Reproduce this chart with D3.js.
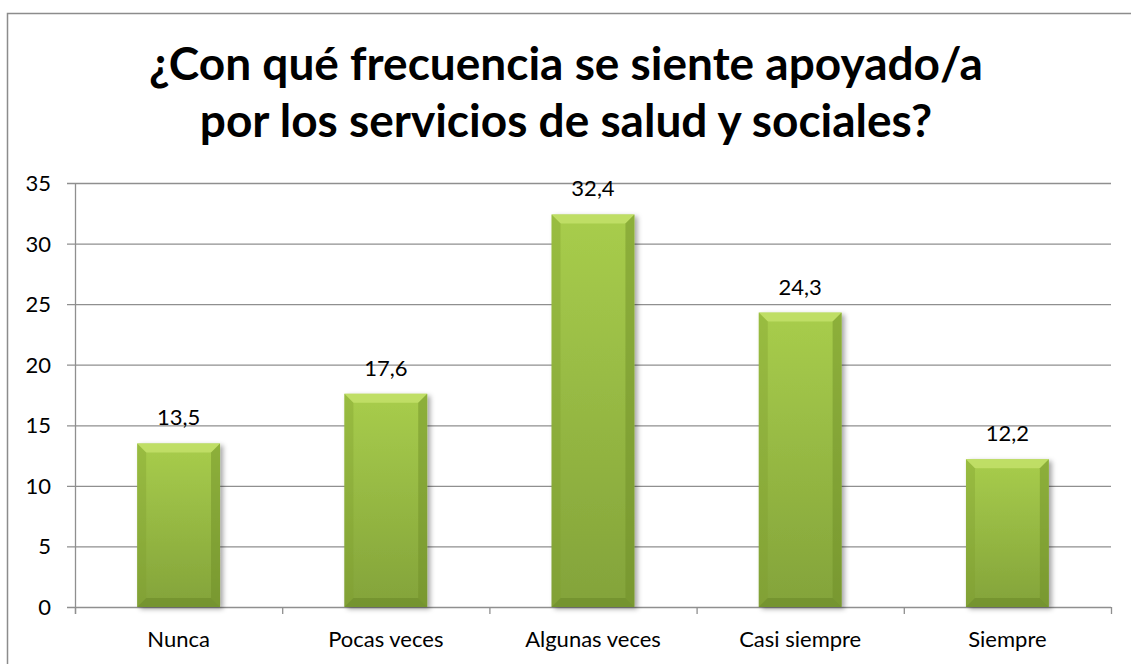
<!DOCTYPE html>
<html lang="es">
<head>
<meta charset="UTF-8">
<title>Apoyo de servicios</title>
<style>
  body { margin: 0; background: #fff; }
  svg text { font-family: Lato, "Open Sans", sans-serif; }
</style>
</head>
<body>
<svg id="chart" width="1131" height="664"></svg>
<script src="https://d3js.org/d3.v7.min.js"></script>
<script>
  // data
  const categories = ['Nunca', 'Pocas veces', 'Algunas veces', 'Casi siempre', 'Siempre'];
  const values = [13.5, 17.6, 32.4, 24.3, 12.2];
  const yTicks = [0, 5, 10, 15, 20, 25, 30, 35];
  const titleLines = ['¿Con qué frecuencia se siente apoyado/a', 'por los servicios de salud y sociales?'];

  const svg = d3.select('#chart');
  const plotLeft = 75, plotRight = 1111, plotTop = 183, plotBottom = 607;

  // outer frame (runs off the right/bottom of the picture)
  svg.append('rect')
    .attr('x', 7.5).attr('y', 13.5)
    .attr('width', 1300).attr('height', 800)
    .attr('fill', 'none').attr('stroke', '#8c8c8c').attr('stroke-width', 1.5);

  svg.selectAll('.title').data(titleLines).enter().append('text')
    .attr('class', 'title')
    .attr('x', 566).attr('y', (d, i) => 80 + i * 57)
    .attr('text-anchor', 'middle')
    .attr('font-size', 46).attr('font-weight', 'bold')
    .attr('fill', '#000')
    .text(d => d);

  const x = d3.scaleBand().domain(categories).range([plotLeft, plotRight]).paddingInner(0.6).paddingOuter(0.3);
  const y = d3.scaleLinear().domain([0, 35]).range([plotBottom, plotTop]);

  // gridlines
  svg.selectAll('.grid').data(yTicks).enter().append('line')
    .attr('x1', plotLeft - 8).attr('x2', plotRight)
    .attr('y1', d => y(d) + 0.5).attr('y2', d => y(d) + 0.5)
    .attr('stroke', '#8f8f8f').attr('stroke-width', 1.3);

  svg.selectAll('.ylab').data(yTicks).enter().append('text')
    .attr('x', 51).attr('y', d => y(d) + 8)
    .attr('text-anchor', 'end')
    .attr('font-size', 22)
    .text(d => d);

  // y axis line
  svg.append('line')
    .attr('x1', plotLeft + 0.5).attr('x2', plotLeft + 0.5)
    .attr('y1', plotTop).attr('y2', plotBottom + 7)
    .attr('stroke', '#8f8f8f').attr('stroke-width', 1.3);

  // x ticks at band edges
  const step = (plotRight - plotLeft) / categories.length;
  const xEdges = d3.range(categories.length + 1).map(i => plotLeft + i * step);
  svg.selectAll('.xtick').data(xEdges).enter().append('line')
    .attr('x1', d => d + 0.5).attr('x2', d => d + 0.5)
    .attr('y1', plotBottom).attr('y2', plotBottom + 7)
    .attr('stroke', '#8f8f8f').attr('stroke-width', 1.3);

  svg.selectAll('.xlab').data(categories).enter().append('text')
    .attr('x', d => x(d) + x.bandwidth() / 2)
    .attr('y', 647)
    .attr('text-anchor', 'middle')
    .attr('font-size', 22)
    .text(d => d);

  // bar fills
  const defs = svg.append('defs');
  const grad = defs.append('linearGradient').attr('id', 'barGrad')
    .attr('x1', 0).attr('x2', 0).attr('y1', 0).attr('y2', 1);
  grad.append('stop').attr('offset', '0%').attr('stop-color', '#a8cd4c');
  grad.append('stop').attr('offset', '100%').attr('stop-color', '#83a33a');

  const shadow = defs.append('filter').attr('id', 'shadow')
    .attr('x', '-20%').attr('y', '-10%').attr('width', '150%').attr('height', '130%');
  shadow.append('feDropShadow').attr('dx', 3).attr('dy', 2).attr('stdDeviation', 2.5)
    .attr('flood-color', '#000').attr('flood-opacity', 0.35);

  const bars = svg.selectAll('.bar').data(categories).enter().append('g').attr('class', 'bar');
  const b = 9; // bevel size

  bars.append('rect')
    .attr('x', d => x(d))
    .attr('y', (d, i) => y(values[i]))
    .attr('width', x.bandwidth())
    .attr('height', (d, i) => plotBottom - y(values[i]))
    .attr('fill', 'url(#barGrad)')
    .attr('filter', 'url(#shadow)');

  // bevels: top lighter, sides and bottom darker
  bars.append('path')
    .attr('fill', '#c3e06a').attr('opacity', 0.85)
    .attr('d', (d, i) => {
      const x0 = x(d), x1 = x(d) + x.bandwidth(), y0 = y(values[i]);
      return `M${x0},${y0}L${x1},${y0}L${x1 - b},${y0 + b}L${x0 + b},${y0 + b}Z`;
    });
  bars.append('path')
    .attr('fill', '#7e9f2f').attr('opacity', 0.35)
    .attr('d', (d, i) => {
      const x0 = x(d), y0 = y(values[i]);
      return `M${x0},${y0}L${x0 + b},${y0 + b}L${x0 + b},${plotBottom - b}L${x0},${plotBottom}Z`;
    });
  bars.append('path')
    .attr('fill', '#6d8c26').attr('opacity', 0.45)
    .attr('d', (d, i) => {
      const x1 = x(d) + x.bandwidth(), y0 = y(values[i]);
      return `M${x1},${y0}L${x1 - b},${y0 + b}L${x1 - b},${plotBottom - b}L${x1},${plotBottom}Z`;
    });
  bars.append('path')
    .attr('fill', '#5f7d20').attr('opacity', 0.4)
    .attr('d', d => {
      const x0 = x(d), x1 = x(d) + x.bandwidth();
      return `M${x0},${plotBottom}L${x0 + b},${plotBottom - b}L${x1 - b},${plotBottom - b}L${x1},${plotBottom}Z`;
    });

  svg.selectAll('.vlab').data(categories).enter().append('text')
    .attr('x', d => x(d) + x.bandwidth() / 2)
    .attr('y', (d, i) => y(values[i]) - 18)
    .attr('text-anchor', 'middle')
    .attr('font-size', 22)
    .text((d, i) => d3.format('.1f')(values[i]).replace('.', ','));
</script>
</body>
</html>
